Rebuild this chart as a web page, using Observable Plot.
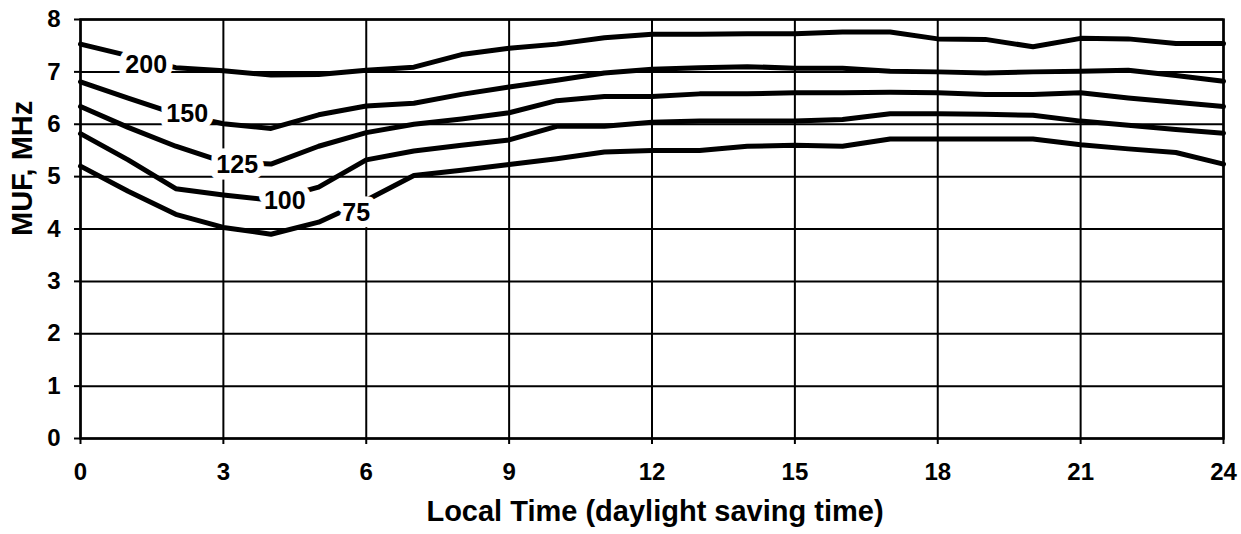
<!DOCTYPE html>
<html>
<head>
<meta charset="utf-8">
<script src="https://cdn.jsdelivr.net/npm/d3@7"></script>
<script src="https://cdn.jsdelivr.net/npm/@observablehq/plot@0.6"></script>
<style>
  html, body { margin: 0; padding: 0; background: #fff; }
  #chart svg { display: block; }
</style>
</head>
<body>
<div id="chart"></div>
<script>
// Local time (hours) and MUF (MHz) for each curve
const hours = [0,1,2,3,4,5,6,7,8,9,10,11,12,13,14,15,16,17,18,19,20,21,22,23,24];
const muf200 = [7.53,7.31,7.08,7.02,6.94,6.95,7.03,7.09,7.33,7.45,7.53,7.65,7.72,7.72,7.73,7.73,7.76,7.76,7.63,7.62,7.48,7.64,7.63,7.54,7.54];
const muf150 = [6.81,6.50,6.20,6.01,5.92,6.18,6.35,6.40,6.57,6.71,6.84,6.98,7.05,7.08,7.10,7.07,7.07,7.01,7.00,6.98,7.00,7.01,7.03,6.93,6.82];
const muf125 = [6.34,5.94,5.58,5.28,5.24,5.58,5.84,6.00,6.10,6.22,6.45,6.53,6.53,6.58,6.58,6.60,6.60,6.61,6.60,6.57,6.57,6.60,6.50,6.42,6.34];
const muf100 = [5.82,5.32,4.77,4.65,4.55,4.80,5.32,5.49,5.60,5.70,5.96,5.96,6.04,6.06,6.06,6.06,6.09,6.20,6.20,6.19,6.17,6.06,5.98,5.90,5.83];
const muf75  = [5.20,4.72,4.28,4.03,3.90,4.13,4.55,5.02,5.12,5.23,5.34,5.47,5.50,5.50,5.58,5.60,5.58,5.72,5.72,5.72,5.72,5.61,5.53,5.46,5.24];

const seriesNames = ["200","150","125","100","75"];
const seriesValues = [muf200, muf150, muf125, muf100, muf75];

// Inline curve labels
const labelHours  = [1.38, 2.24, 3.29, 4.29, 5.79];
const labelValues = [7.14, 6.20, 5.22, 4.54, 4.30];

const xTicks = [0,3,6,9,12,15,18,21,24];
const yTicks = [0,1,2,3,4,5,6,7,8];

const xTitle = "Local Time (daylight saving time)";
const yTitle = "MUF, MHz";

const rows = [];
seriesNames.forEach((name, i) => {
  hours.forEach((h, j) => rows.push({series: name, hour: h, muf: seriesValues[i][j]}));
});
const labels = seriesNames.map((name, i) => ({text: name, hour: labelHours[i], muf: labelValues[i]}));

const chart = Plot.plot({
  width: 1241,
  height: 534,
  marginLeft: 80,
  marginRight: 18,
  marginTop: 19,
  marginBottom: 96,
  style: {fontFamily: "'Liberation Sans', Arial, sans-serif", fontWeight: "bold", background: "white", color: "black"},
  x: {domain: [0, 24], ticks: xTicks},
  y: {domain: [0, 8], ticks: yTicks},
  marks: [
    Plot.gridX(xTicks, {stroke: "black", strokeOpacity: 1, strokeWidth: 2}),
    Plot.gridY(yTicks, {stroke: "black", strokeOpacity: 1, strokeWidth: 2}),
    Plot.frame({stroke: "black", strokeWidth: 2.5}),
    Plot.axisX(xTicks, {tickSize: 6, tickPadding: 18, fontSize: 24, fontWeight: "bold", label: null, strokeWidth: 2, tickFormat: "d"}),
    Plot.axisY(yTicks, {tickSize: 6, tickPadding: 14, fontSize: 24, fontWeight: "bold", label: null, strokeWidth: 2, tickFormat: "d"}),
    Plot.line(rows, {x: "hour", y: "muf", z: "series", stroke: "black", strokeWidth: 5, strokeLinejoin: "round"}),
    Plot.text(labels, {x: "hour", y: "muf", text: "text", fontSize: 25, fontWeight: "bold", fill: "black", stroke: "white", strokeWidth: 13, paintOrder: "stroke"}),
    Plot.text([yTitle], {frameAnchor: "left", rotate: -90, dx: -58, dy: 7, fontSize: 29, fontWeight: "bold", fill: "black"}),
    Plot.text([xTitle], {frameAnchor: "bottom", dy: 82, dx: 3, fontSize: 29, fontWeight: "bold", fill: "black"})
  ]
});
document.getElementById("chart").appendChild(chart);
</script>
</body>
</html>
